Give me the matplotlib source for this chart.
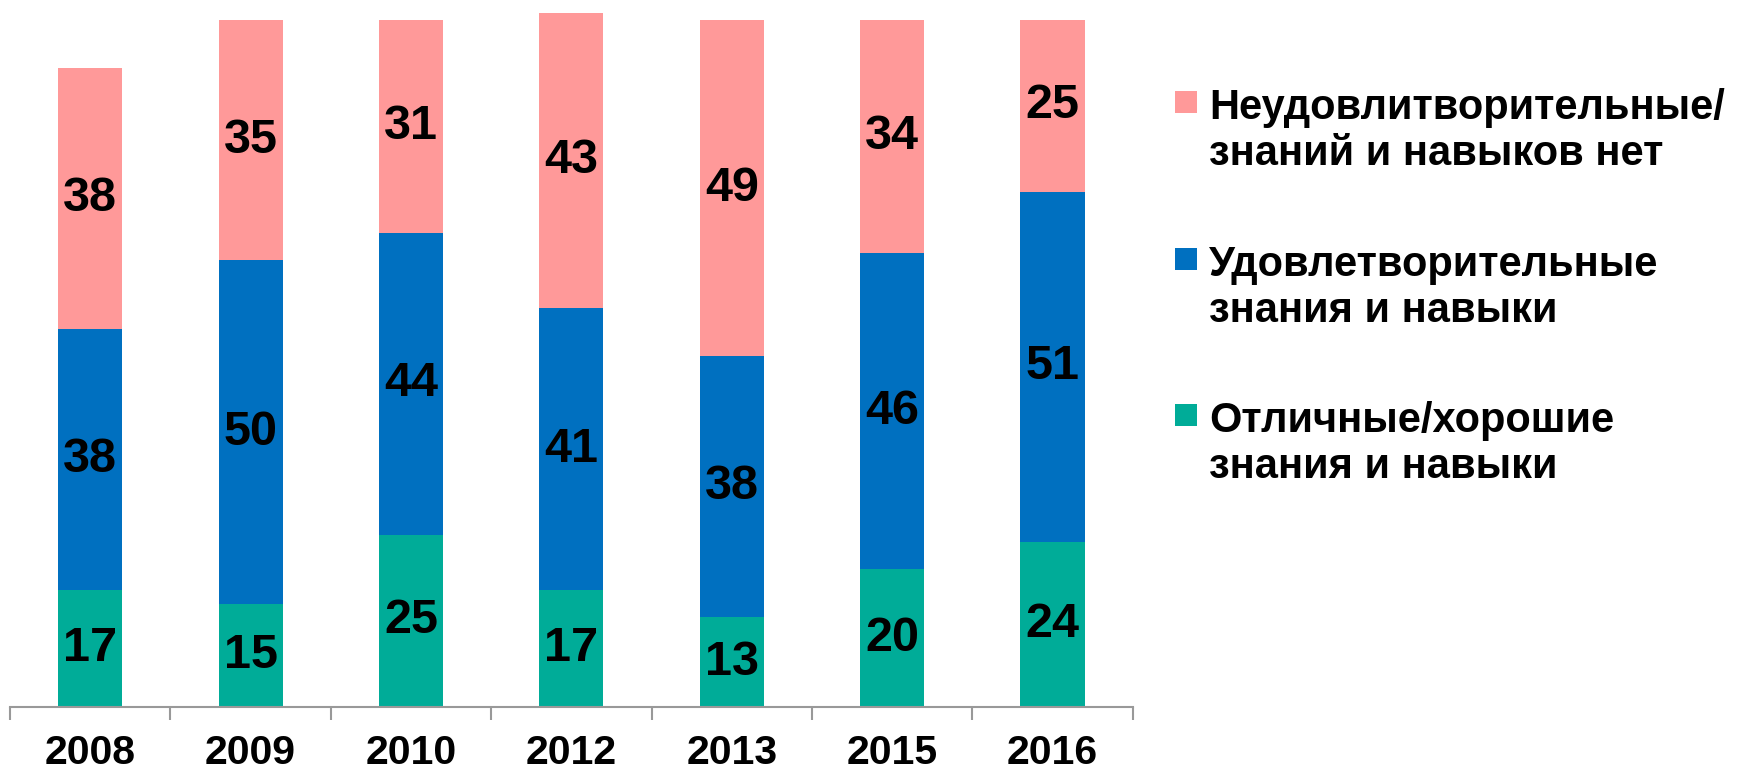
import matplotlib
matplotlib.use("Agg")
import matplotlib.pyplot as plt
from matplotlib.patches import Rectangle
import numpy as np

years = ['2008', '2009', '2010', '2012', '2013', '2015', '2016']
good = [17, 15, 25, 17, 13, 20, 24]
satisfactory = [38, 50, 44, 41, 38, 46, 51]
poor = [38, 35, 31, 43, 49, 34, 25]

series_labels = ['Неудовлитворительные/\nзнаний и навыков нет',
                 'Удовлетворительные\nзнания и навыки',
                 'Отличные/хорошие\nзнания и навыки']
colors = {'poor': '#FF9999', 'sat': '#0070C0', 'good': '#00AC98'}

plt.rcParams['font.family'] = ['Liberation Sans', 'DejaVu Sans']
plt.rcParams['font.weight'] = 'bold'

W, H = 1738, 774
fig = plt.figure(figsize=(W / 100, H / 100), dpi=100)

def fx(px):
    return px / W

def fy(py):
    return 1 - py / H

ax_left, ax_right = 10, 1132.7
ax_base = 706.7
ax = fig.add_axes([fx(ax_left), fy(ax_base), fx(ax_right - ax_left), ax_base / H])

x = np.arange(len(years))
bw = 0.4
good_a = np.array(good)
sat_a = np.array(satisfactory)
poor_a = np.array(poor)

ax.bar(x, good_a, bw, color=colors['good'], linewidth=0)
ax.bar(x, sat_a, bw, bottom=good_a, color=colors['sat'], linewidth=0)
ax.bar(x, poor_a, bw, bottom=good_a + sat_a, color=colors['poor'], linewidth=0)

for i in range(len(years)):
    for val, bottom in ((good_a[i], 0), (sat_a[i], good_a[i]), (poor_a[i], good_a[i] + sat_a[i])):
        ax.text(x[i], bottom + val / 2, str(val), ha='center', va='center',
                fontsize=35, fontweight='bold', color='black')

ax.set_xlim(-0.5, len(years) - 0.5)
ax.set_ylim(0, ax_base / 6.867)

for s in ['top', 'right', 'left']:
    ax.spines[s].set_visible(False)
ax.spines['bottom'].set_color('#999999')
ax.spines['bottom'].set_linewidth(1.5)
ax.set_yticks([])

ax.set_xticks(x)
ax.set_xticklabels(years, fontsize=29.5, fontweight='bold')
ax.tick_params(axis='x', which='major', length=0, pad=19.5)
ax.set_xticks(np.arange(-0.5, len(years) + 0.5, 1), minor=True)
ax.tick_params(axis='x', which='minor', length=9.4, width=1.5, color='#999999', direction='out')

# Legend (manual, squares aligned to first text line)
leg_items = [(colors['poor'], series_labels[0], 102),
             (colors['sat'], series_labels[1], 259),
             (colors['good'], series_labels[2], 415)]
sq = 22
line_gap = 48.3
for col, lab, cy in leg_items:
    fig.patches.append(Rectangle((fx(1175), fy(cy + sq / 2)), fx(sq), sq / H,
                                 transform=fig.transFigure, facecolor=col,
                                 edgecolor='none'))
    fig.text(fx(1209), fy(cy + 14.5 + line_gap), lab, ha='left', va='baseline',
             fontsize=30, fontweight='bold', color='black', linespacing=1.2)

fig.savefig('out.png', dpi=100)
